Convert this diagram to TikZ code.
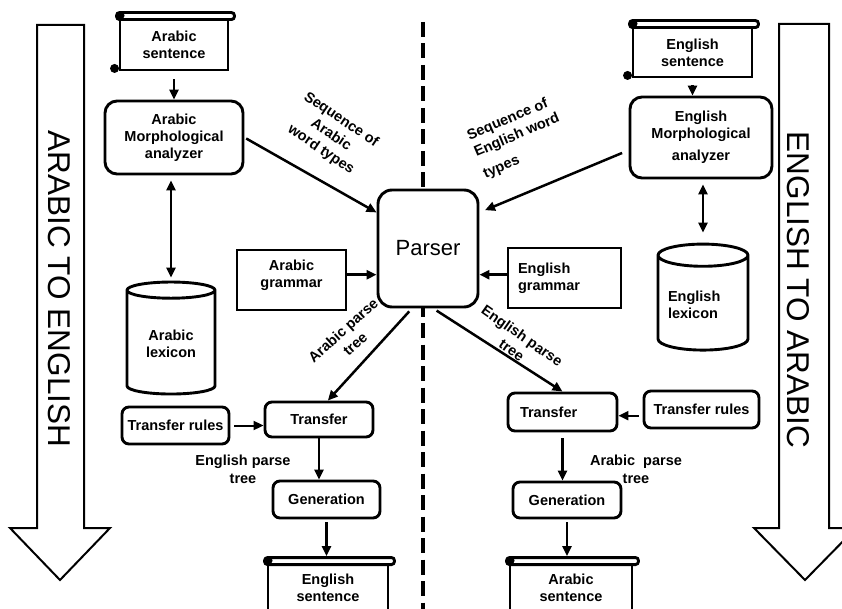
\documentclass[tikz,border=0pt]{standalone}
\usepackage{fontspec}
\setmainfont{Liberation Sans}
\usetikzlibrary{arrows.meta,shapes.geometric,calc}

\tikzset{
  box/.style={draw, line width=2.9pt, fill=white, align=center, inner sep=2pt,
    font=\fontsize{14.5}{17}\selectfont\bfseries},
  rbox/.style={box, rounded corners=7pt},
  doc/.style={box},
  lex/.style={box, cylinder, shape border rotate=90, aspect=0.3},
  conn/.style={line width=2.5pt, -{Triangle[length=10pt,width=9pt]}},
  dconn/.style={line width=2.5pt, {Triangle[length=10pt,width=9pt]}-{Triangle[length=10pt,width=9pt]}},
  lbl/.style={align=center, inner sep=0pt, font=\fontsize{14.5}{18}\selectfont\bfseries},
  bigarrow/.style={draw, line width=2pt, fill=white},
  bigtext/.style={font=\fontsize{31.5}{36}\selectfont, rotate=-90, inner sep=0pt}
}
\newcommand{\docroll}[1]{%
  \draw[line width=2.9pt, rounded corners=3pt, fill=white]
    ($(#1.north west)+(-2,-6)$) rectangle ($(#1.north east)+(5,1)$);
  \fill ($(#1.north west)+(2,-3)$) circle (4);
  \fill ($(#1.south west)+(-4,-3)$) circle (4.5);
}

\begin{document}
\begin{tikzpicture}[x=1pt,y=1pt,yscale=-1]
    \useasboundingbox (0,0) rectangle (842,609);
    \clip (0,0) rectangle (842,609);

    % direction arrows at the sides
    \draw[bigarrow] (37,25) -- (84,25) -- (84,528) -- (110,528) -- (60,580) -- (10,528) -- (37,528) -- cycle;
    \node[bigtext] (ar2en) at (59,289) {ARABIC TO ENGLISH};
    \draw[bigarrow] (779,24) -- (829,24) -- (829,528) -- (856,528) -- (805,580) -- (754,528) -- (779,528) -- cycle;
    \node[bigtext] (en2ar) at (798,290) {ENGLISH TO ARABIC};

    % dividing line
    \draw[line width=3.5pt, dash pattern=on 15pt off 6.5pt] (423,22) -- (423,609);

    % Arabic side
    \node[doc, minimum width=108pt, minimum height=50pt] (arsent) at (174,45) {Arabic\\sentence};
    \docroll{arsent}
    \node[rbox, rounded corners=12pt, minimum width=138pt, minimum height=73pt] (armorph) at (174,137.5) {Arabic\\Morphological\\analyzer};
    \node[lex, minimum width=88pt, minimum height=112pt] (arlex) at (171,344) {Arabic\\lexicon};
    \node[box, minimum width=109pt, minimum height=60pt, text depth=13pt] (argram) at (291.5,280) {Arabic\\grammar};

    % parser
    \node[rbox, rounded corners=14pt, minimum width=100pt, minimum height=117pt,
      font=\fontsize{22}{26}\selectfont\mdseries] (parser) at (428,248.5) {Parser};

    % English side
    \node[doc, minimum width=119pt, minimum height=49pt] (ensent) at (692.5,52.5) {English\\sentence};
    \docroll{ensent}
    \node[rbox, rounded corners=12pt, minimum width=142pt, minimum height=81pt] (enmorph) at (701,137.5) {English\\Morphological\\[5pt]analyzer};
    \node[lex, minimum width=90pt, minimum height=106pt, text width=70pt, align=left] (enlex) at (703,305) {English\\lexicon};
    \node[box, minimum width=113pt, minimum height=60pt, text width=93pt, align=left] (engram) at (564.5,278) {English\\grammar\par\vspace{9pt}};

    % transfer and generation, left
    \node[rbox, minimum width=107pt, minimum height=37pt] (arrules) at (175.5,425.5) {Transfer rules};
    \node[rbox, minimum width=108pt, minimum height=35pt] (artrans) at (319,419.5) {Transfer};
    \node[rbox, minimum width=107pt, minimum height=37pt] (argen) at (326.5,499.5) {Generation};
    \node[doc, minimum width=120pt, minimum height=55pt, text depth=9pt] (enout) at (328,592.5) {English\\sentence};
    \docroll{enout}

    % transfer and generation, right
    \node[rbox, minimum width=109pt, minimum height=38pt, text width=85pt, align=left] (entrans) at (562.5,412) {Transfer};
    \node[rbox, minimum width=115pt, minimum height=37pt] (enrules) at (701.5,409.5) {Transfer rules};
    \node[rbox, minimum width=108pt, minimum height=36pt] (engen) at (567,500) {Generation};
    \node[doc, minimum width=122pt, minimum height=55pt, text depth=9pt] (arout) at (571,592.5) {Arabic\\sentence};
    \docroll{arout}

    % connectors
    \draw[conn, shorten <=8pt] (arsent) -- (armorph);
    \draw[dconn, shorten <=5pt, shorten >=3pt] (arlex.north |- armorph.south) -- (arlex.north);
    \draw[conn, shorten <=2pt] (armorph.east) -- (parser.145);
    \draw[conn] (argram.east |- parser.207) -- (parser.207);
    \draw[conn, shorten <=7pt] (ensent.south) -- (ensent.south |- enmorph.north);
    \draw[dconn, shorten <=5pt, shorten >=10pt] (enlex.north |- enmorph.south) -- (enlex.north);
    \draw[conn, shorten <=7pt, shorten >=6pt] (enmorph.190) -- (parser.35);
    \draw[conn] (engram.west |- parser.333) -- (parser.333);
    \draw[conn, shorten <=4pt] (parser.255) -- (artrans.65);
    \draw[conn, shorten <=4pt] (parser.275) -- (entrans.north);
    \draw[conn, line width=2pt, shorten <=4pt] (arrules.east) -- (arrules.east -| artrans.west);
    \draw[conn, line width=2pt, shorten <=4pt] (enrules.186) -- (enrules.186 -| entrans.east);
    \draw[conn] (artrans.south) -- (artrans.south |- argen.north);
    \draw[conn, shorten <=3pt, shorten >=7.5pt] (argen.south) -- (argen.south |- enout.north);
    \draw[conn, shorten <=6pt] (entrans.south) -- (entrans.south |- engen.north);
    \draw[conn, shorten <=3pt, shorten >=7.5pt] (engen.south) -- (engen.south |- arout.north);

    % connector labels
    \node[lbl, rotate=-34] (seqar) at (331,135) {Sequence of\\Arabic\\word types};
    \node[lbl, rotate=23, align=left] (seqen) at (518,138) {Sequence of\\English word\\[5pt]types};
    \node[lbl, rotate=42] (arparse) at (349,337) {Arabic parse\\tree};
    \node[lbl, rotate=-35] (enparse) at (517,343) {English parse\\tree};
    \node[lbl] (entree) at (243,469) {English parse\\tree};
    \node[lbl] (artree) at (636,469) {Arabic\ \ parse\\tree};
\end{tikzpicture}
\end{document}
